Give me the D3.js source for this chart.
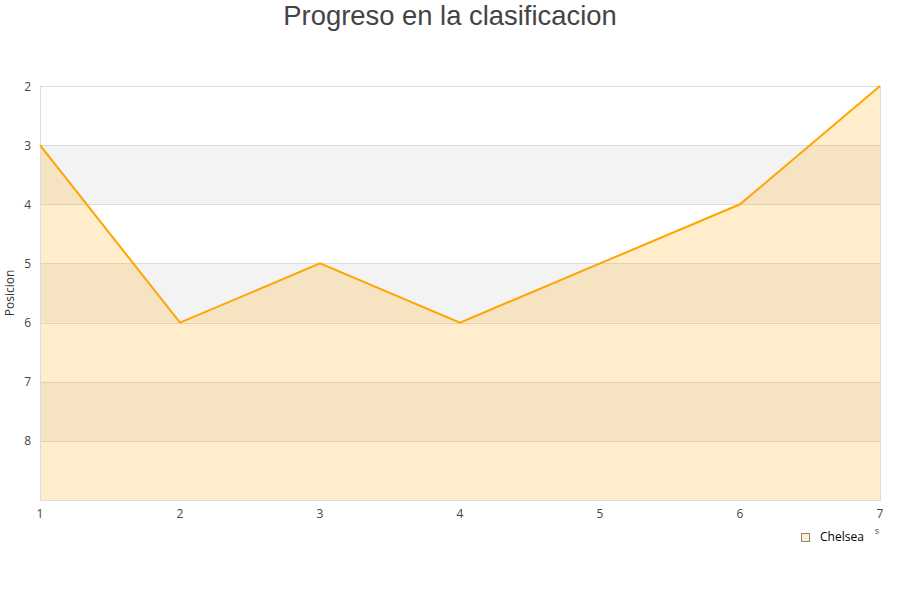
<!DOCTYPE html>
<html><head><meta charset="utf-8">
<script src="https://cdn.jsdelivr.net/npm/d3@7"></script>
<style>body{margin:0;background:#fff}</style>
</head><body>
<svg id="c" width="900" height="600"></svg>
<script>
const jornadas = [1, 2, 3, 4, 5, 6, 7];
const posiciones = [3, 6, 5, 6, 5, 4, 2];
const yTicks = [2, 3, 4, 5, 6, 7, 8];
const seriesName = "Chelsea";
const title = "Progreso en la clasificacion";
const yTitle = "Posicion";
const xTitle = "Jornadas";

const svg = d3.select("#c");
const L = 40, R = 880, T = 86, B = 500;
const x = d3.scaleLinear().domain([1, 7]).range([L, R]);
const y = d3.scaleLinear().domain([2, 9]).range([T, B]);

// bands
const bandStarts = [2, 3, 4, 5, 6, 7, 8];
svg.append("g").selectAll("rect").data(bandStarts).join("rect")
  .attr("x", L).attr("width", R - L)
  .attr("y", d => y(d)).attr("height", d => y(d + 1) - y(d))
  .attr("fill", (d, i) => i % 2 === 1 ? "#f3f3f3" : "#ffffff");

// grid
svg.append("g").selectAll("line").data(yTicks).join("line")
  .attr("x1", L).attr("x2", R).attr("y1", d => Math.round(y(d)) + 0.5).attr("y2", d => Math.round(y(d)) + 0.5)
  .attr("stroke", "#dddddd").attr("stroke-width", 1);

// area
const area = d3.area().x((d, i) => x(jornadas[i])).y0(B).y1(d => y(d));
svg.append("path").datum(posiciones).attr("d", area)
  .attr("fill", "#ffa500").attr("fill-opacity", 0.2);

// border
svg.append("rect").attr("x", L + 0.5).attr("y", T + 0.5).attr("width", R - L).attr("height", B - T)
  .attr("fill", "none").attr("stroke", "#dddddd");

// line
const line = d3.line().x((d, i) => x(jornadas[i])).y(d => y(d));
svg.append("path").datum(posiciones).attr("d", line)
  .attr("fill", "none").attr("stroke", "#ffa500").attr("stroke-width", 2);

// axes labels
const font = "'Open Sans', 'Noto Sans', sans-serif";
svg.append("g").selectAll("text").data(yTicks).join("text")
  .attr("x", 31).attr("y", d => y(d) + 4.5).attr("text-anchor", "end")
  .attr("font-family", font).attr("font-size", 12).attr("fill", "#444")
  .text(d => d);
svg.append("g").selectAll("text").data(jornadas).join("text")
  .attr("x", d => x(d)).attr("y", 518).attr("text-anchor", "middle")
  .attr("font-family", font).attr("font-size", 12).attr("fill", "#444")
  .text(d => d);

// y title
svg.append("text").attr("transform", "translate(14," + ((T + B) / 2) + ") rotate(-90)")
  .attr("text-anchor", "middle").attr("font-family", font).attr("font-size", 12).attr("fill", "#333")
  .text(yTitle);

// x title (mostly hidden by legend, as in the reference)
svg.append("text").attr("x", 879).attr("y", 534).attr("text-anchor", "end")
  .attr("font-family", font).attr("font-size", 9).attr("fill", "#444").text(xTitle);

// legend
const lg = svg.append("g");
lg.append("rect").attr("x", 794).attr("y", 527).attr("width", 81).attr("height", 22).attr("fill", "#fff");
lg.append("rect").attr("x", 801.5).attr("y", 533.5).attr("width", 8).attr("height", 8)
  .attr("fill", "#ffedcc").attr("stroke", "#888");
lg.append("text").attr("x", 820).attr("y", 541).attr("font-family", font).attr("font-size", 12)
  .attr("fill", "#000").text(seriesName);

// title
svg.append("text").attr("x", 450).attr("y", 25).attr("text-anchor", "middle")
  .attr("font-family", "'Liberation Sans', Arial, sans-serif").attr("font-size", 27.4).attr("fill", "#444")
  .text(title);
</script>
</body></html>
